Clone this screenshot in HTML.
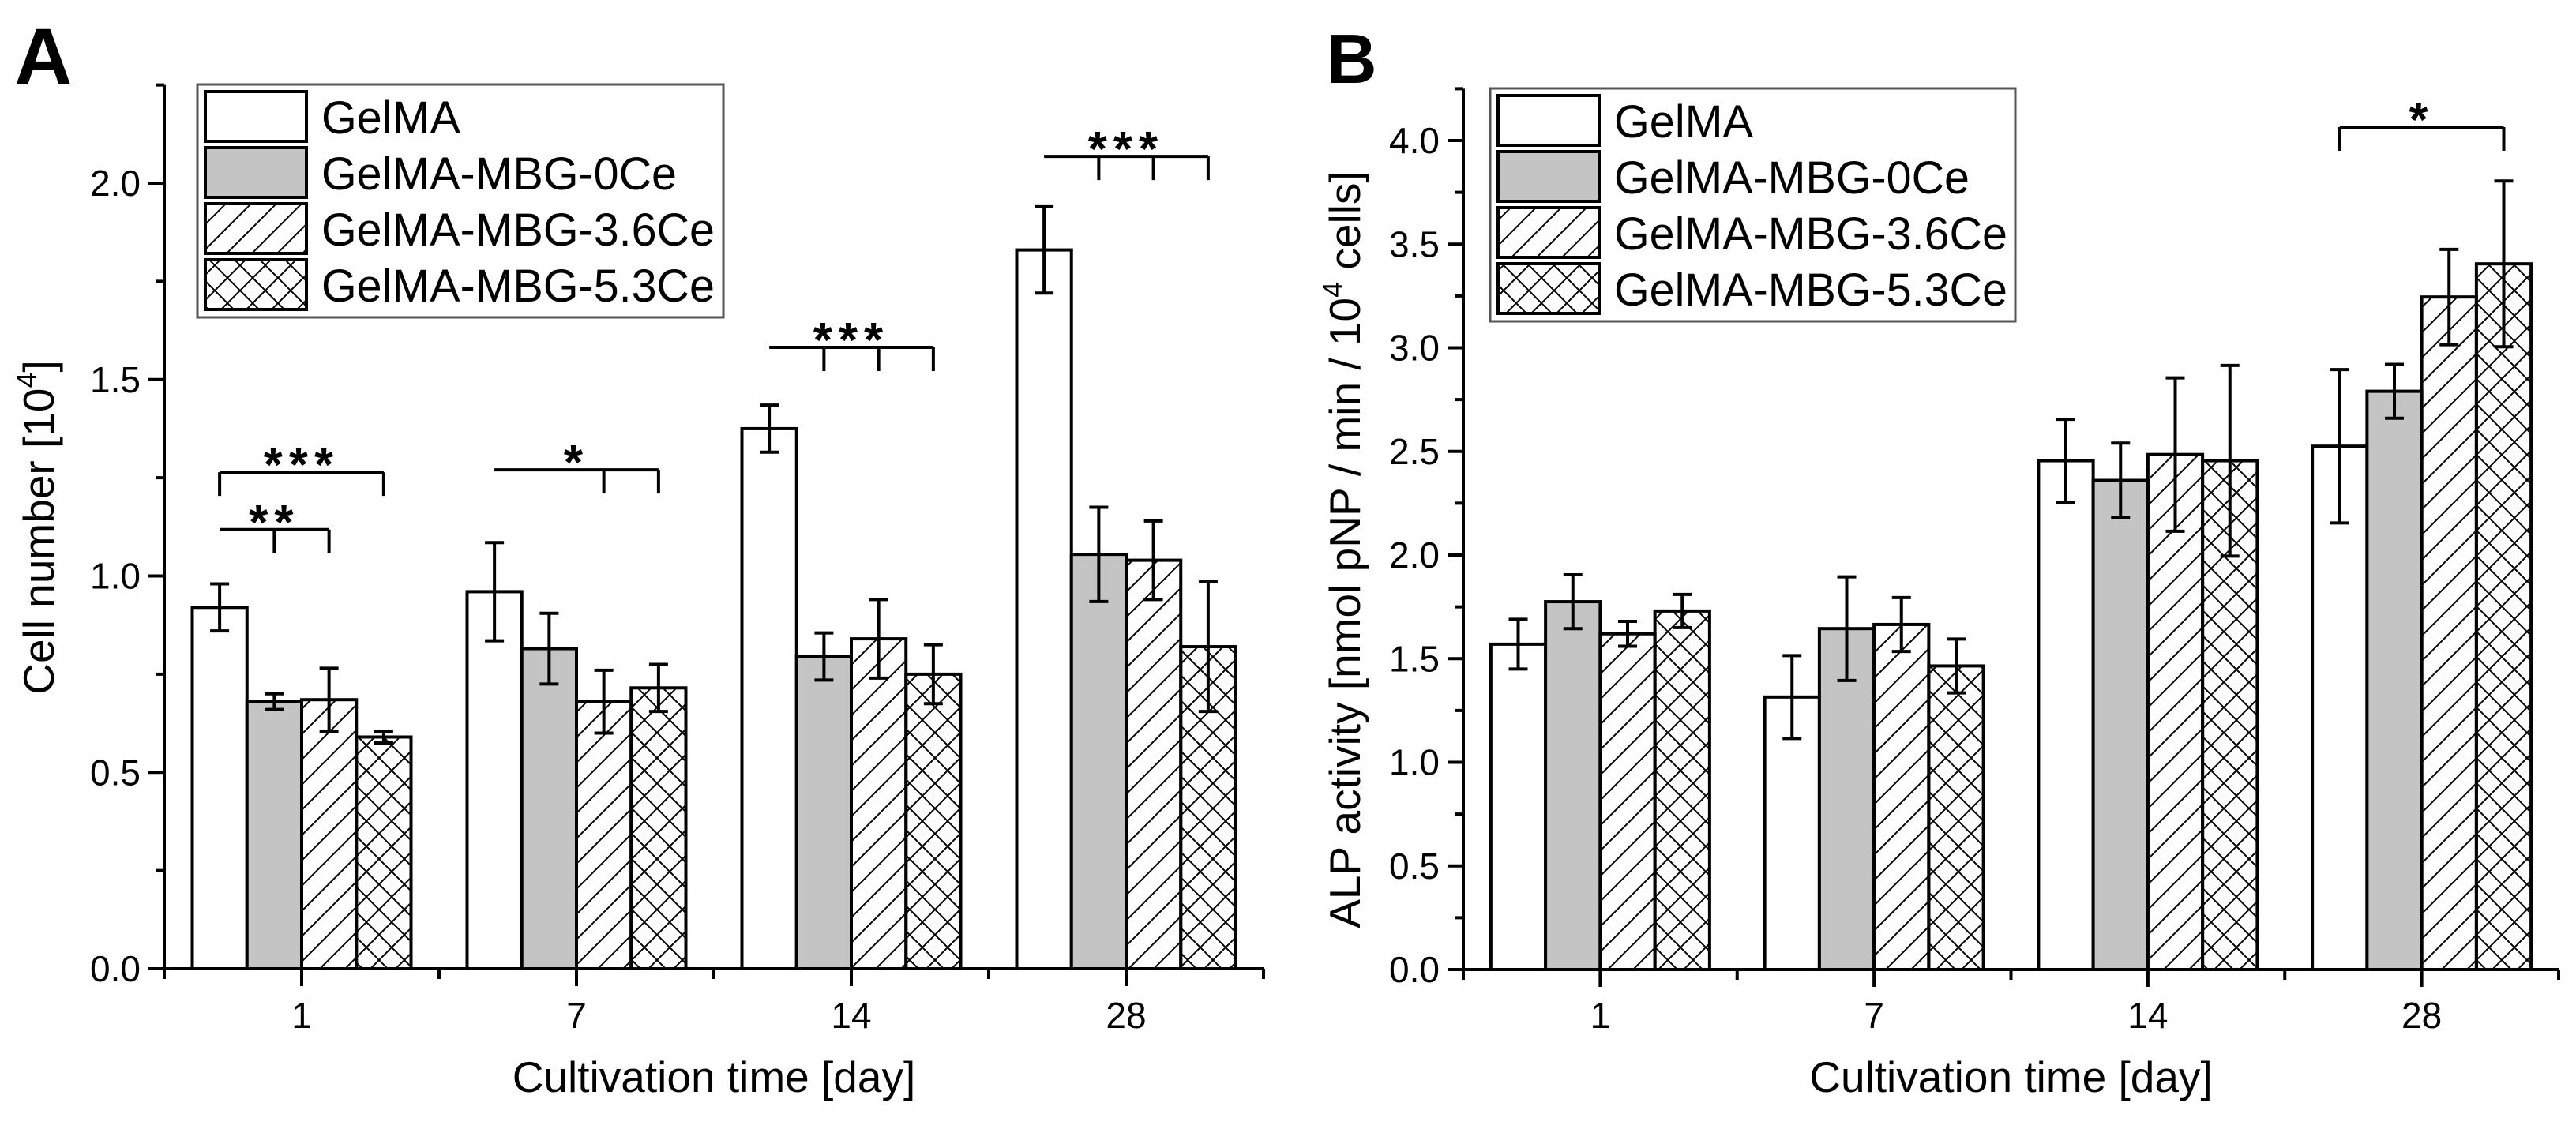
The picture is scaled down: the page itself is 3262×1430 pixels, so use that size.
<!DOCTYPE html>
<html><head><meta charset="utf-8"><style>
html,body{margin:0;padding:0;background:#fff;}
svg{display:block;font-family:"Liberation Sans",Arial,sans-serif;}
</style></head><body>
<svg id="fig" width="3262" height="1430" viewBox="0 0 3262 1430" xmlns="http://www.w3.org/2000/svg">
<defs>
<pattern id="diag" patternUnits="userSpaceOnUse" width="32" height="32">
<path d="M-8,8 L8,-8 M0,32 L32,0 M24,40 L40,24" stroke="#000" stroke-width="2"/>
</pattern>
<pattern id="cross" patternUnits="userSpaceOnUse" width="32" height="32">
<path d="M-8,8 L8,-8 M0,32 L32,0 M24,40 L40,24 M-8,24 L8,40 M0,0 L32,32 M24,-8 L40,8" stroke="#000" stroke-width="2"/>
</pattern>
</defs>
</svg>
<script>
// ---- data ----
const categories = ["1","7","14","28"];
const seriesNames = ["GelMA","GelMA-MBG-0Ce","GelMA-MBG-3.6Ce","GelMA-MBG-5.3Ce"];
// Panel A: cell number [10^4]
const cellMean = [
  [0.92, 0.96, 1.375, 1.83],
  [0.68, 0.815, 0.795, 1.055],
  [0.685, 0.68, 0.84, 1.04],
  [0.59, 0.715, 0.75, 0.82]
];
const cellErr = [
  [0.06, 0.125, 0.06, 0.11],
  [0.02, 0.09, 0.06, 0.12],
  [0.08, 0.08, 0.1, 0.1],
  [0.015, 0.06, 0.075, 0.165]
];
// Panel B: ALP activity
const alpMean = [
  [1.57, 1.315, 2.455, 2.525],
  [1.775, 1.645, 2.36, 2.79],
  [1.62, 1.665, 2.485, 3.245],
  [1.73, 1.465, 2.455, 3.405]
];
const alpErr = [
  [0.12, 0.2, 0.2, 0.37],
  [0.13, 0.25, 0.18, 0.13],
  [0.06, 0.13, 0.37, 0.23],
  [0.08, 0.13, 0.46, 0.4]
];
const yTicksA = ["0.0","0.5","1.0","1.5","2.0"];
const yTicksB = ["0.0","0.5","1.0","1.5","2.0","2.5","3.0","3.5","4.0"];
// significance brackets: group index, level value, from bar, to bar, leg bars, label
const sigA = [
  {g:0, v:1.264, from:0, to:3, legs:[0,3], label:"***"},
  {g:0, v:1.118, from:0, to:2, legs:[1,2], label:"**"},
  {g:1, v:1.27, from:0, to:3, legs:[2,3], label:"*"},
  {g:2, v:1.582, from:0, to:3, legs:[1,2,3], label:"***"},
  {g:3, v:2.068, from:0, to:3, legs:[1,2,3], label:"***"}
];
const sigB = [
  {g:3, v:4.065, from:0, to:3, legs:[0,3], label:"*"}
];

const NS = "http://www.w3.org/2000/svg";
const svg = document.getElementById('fig');
function el(tag, attrs, parent){
  const e = document.createElementNS(NS, tag);
  for (const k in attrs) e.setAttribute(k, attrs[k]);
  (parent||svg).appendChild(e);
  return e;
}
const fills = ["#fff","#c4c4c4","url(#diag)","url(#cross)"];

function panel(cfg){
  const g = el('g', {});
  
  
  const yS = v => cfg.y0 - v * cfg.ppu;
  const spacing = (cfg.x1 - cfg.x0) / categories.length;
  const xC = i => cfg.x0 + spacing * (i + 0.5);
  const bw = 69.25;
  const barX = (gi, s) => xC(gi) - 2 * bw + s * bw;
  const barC = (gi, s) => barX(gi, s) + bw / 2;

  // bars
  for (let s = 0; s < 4; s++) {
    for (let gi = 0; gi < categories.length; gi++) {
      const v = cfg.mean[s][gi];
      const r = el('rect', {x: barX(gi, s), y: yS(v), width: bw, height: cfg.y0 - yS(v),
        fill: fills[s], stroke: '#000', 'stroke-width': 4}, g);
      
      
    }
  }
  // error bars
  for (let s = 0; s < 4; s++) {
    for (let gi = 0; gi < categories.length; gi++) {
      const v = cfg.mean[s][gi], e = cfg.err[s][gi], cx = barC(gi, s);
      const p = el('path', {d: `M${cx},${yS(v+e)} V${yS(v-e)} M${cx-12},${yS(v+e)} H${cx+12} M${cx-12},${yS(v-e)} H${cx+12}`,
        stroke: '#000', 'stroke-width': 4, fill: 'none'}, g);
      
      
    }
  }
  // axes
  const ax = el('path', {d: `M${cfg.x0},${yS(cfg.top)} V${cfg.y0} H${cfg.x1}`, stroke: '#000', 'stroke-width': 4, fill: 'none'}, g);
  
  
  // y ticks
  for (let k = 0; k * 0.25 <= cfg.top + 1e-6; k++) {
    const y = yS(k * 0.25), major = k % 2 === 0;
    el('line', {x1: cfg.x0 - (major ? 20 : 11), x2: cfg.x0, y1: y, y2: y, stroke: '#000', 'stroke-width': 4}, g);
  }
  cfg.yTicks.forEach((t, i) => {
    const tx = el('text', {x: cfg.x0 - 30, y: yS(i * 0.5) + 16, 'font-size': 46, 'text-anchor': 'end'}, g);
    tx.textContent = t;
    
    
  });
  // x ticks
  for (let i = 0; i <= categories.length; i++) {
    const x = cfg.x0 + spacing * i;
    el('line', {x1: x, x2: x, y1: cfg.y0, y2: cfg.y0 + 13, stroke: '#000', 'stroke-width': 4}, g);
  }
  categories.forEach((c, i) => {
    el('line', {x1: xC(i), x2: xC(i), y1: cfg.y0, y2: cfg.y0 + 22, stroke: '#000', 'stroke-width': 4}, g);
    const tx = el('text', {x: xC(i), y: 1302, 'font-size': 46, 'text-anchor': 'middle'}, g);
    tx.textContent = c;
    
    
  });
  // axis titles
  const xt = el('text', {x: (cfg.x0 + cfg.x1) / 2, y: 1383, 'font-size': 55, 'text-anchor': 'middle'}, g);
  xt.textContent = 'Cultivation time [day]';
  
  
  const yt = el('text', {x: 0, y: 0, 'font-size': 55, 'text-anchor': 'middle',
    transform: `translate(${cfg.ytX},${cfg.ytY}) rotate(-90)`}, g);
  yt.innerHTML = cfg.ytitle;
  
  
  // panel letter
  const pl = el('text', {x: cfg.letterX, y: cfg.letterY, 'font-size': cfg.letterSize, 'font-weight': 'bold'}, g);
  pl.textContent = cfg.letter;
  
  
  // significance brackets
  cfg.sig.forEach(b => {
    const y = yS(b.v);
    const xa = barC(b.g, b.from), xb = barC(b.g, b.to);
    let d = `M${xa},${y} H${xb}`;
    b.legs.forEach(l => { const lx = barC(b.g, l); d += ` M${lx},${y} V${y + 30}`; });
    const p = el('path', {d: d, stroke: '#000', 'stroke-width': 4, fill: 'none'}, g);
    
    
    const st = el('text', {x: (xa + xb) / 2, y: y + 12, 'font-size': 62, 'font-weight': 'bold',
      'text-anchor': 'middle', 'letter-spacing': 8}, g);
    st.textContent = b.label;
    
    
  });
  // legend
  const lg = el('g', {}, g);
  
  
  el('rect', {x: cfg.lx, y: cfg.ly, width: cfg.lw, height: 295, fill: '#fff', stroke: '#555', 'stroke-width': 3}, lg);
  seriesNames.forEach((n, s) => {
    const sy = cfg.ly + 9 + s * 71;
    const sw = el('rect', {x: cfg.lx + 10, y: sy, width: 128, height: 63, fill: fills[s], stroke: '#000', 'stroke-width': 4}, lg);
    
    
    const t = el('text', {x: cfg.lx + 157, y: sy + 53, 'font-size': 58, textLength: s === 0 ? 176 : (s === 1 ? 450 : 498), lengthAdjust: 'spacingAndGlyphs'}, lg);
    t.textContent = n;
    
    
  });
}

panel({name: 'panel-a-cell-number', key: 'a', x0: 208, x1: 1600, y0: 1227, ppu: 497.5, top: 2.25,
  mean: cellMean, err: cellErr, yTicks: yTicksA, sig: sigA,
  ytitle: 'Cell number [10<tspan font-size="36" dy="-22">4</tspan><tspan dy="22">]</tspan>', ytX: 68, ytY: 668,
  letter: 'A', letterX: 18, letterY: 107, letterSize: 102, lx: 250, ly: 107, lw: 666});
panel({name: 'panel-b-alp-activity', key: 'b', x0: 1853, x1: 3240, y0: 1228, ppu: 262.5, top: 4.25,
  mean: alpMean, err: alpErr, yTicks: yTicksB, sig: sigB,
  ytitle: 'ALP activity [nmol pNP / min / 10<tspan font-size="36" dy="-22">4</tspan><tspan dy="22"> cells]</tspan>', ytX: 1722, ytY: 696,
  letter: 'B', letterX: 1680, letterY: 105, letterSize: 88, lx: 1887, ly: 112, lw: 665});
</script>
</body></html>
